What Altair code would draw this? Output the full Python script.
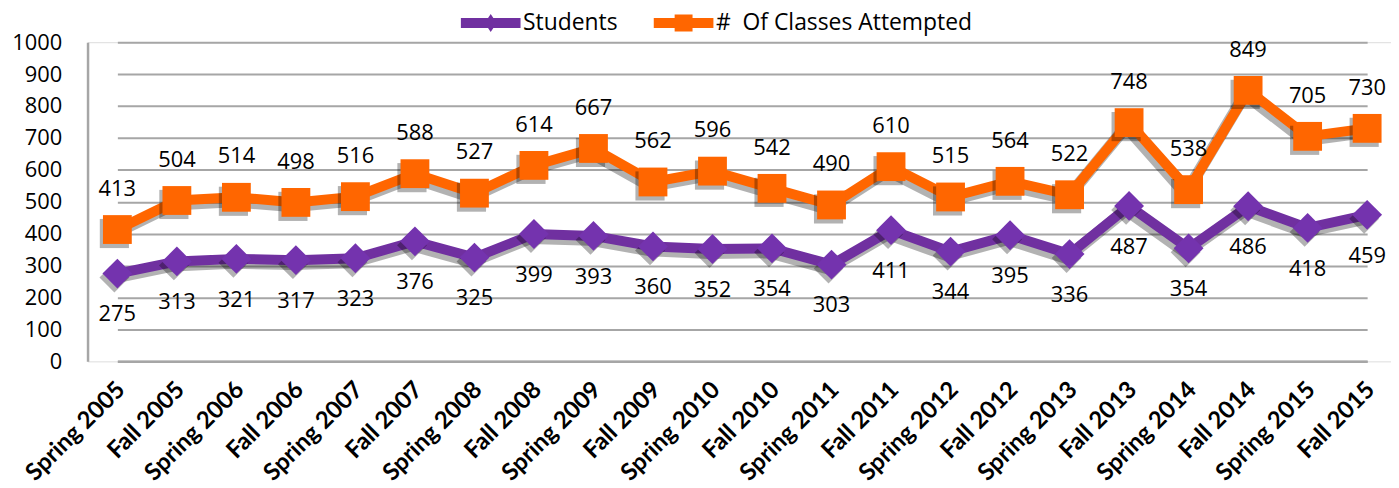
import altair as alt
import pandas as pd

terms = ["Spring 2005", "Fall 2005", "Spring 2006", "Fall 2006", "Spring 2007", "Fall 2007",
         "Spring 2008", "Fall 2008", "Spring 2009", "Fall 2009", "Spring 2010", "Fall 2010",
         "Spring 2011", "Fall 2011", "Spring 2012", "Fall 2012", "Spring 2013", "Fall 2013",
         "Spring 2014", "Fall 2014", "Spring 2015", "Fall 2015"]
students = [275, 313, 321, 317, 323, 376, 325, 399, 393, 360, 352, 354,
            303, 411, 344, 395, 336, 487, 354, 486, 418, 459]
classes = [413, 504, 514, 498, 516, 588, 527, 614, 667, 562, 596, 542,
           490, 610, 515, 564, 522, 748, 538, 849, 705, 730]

S_NAME = "Students"
C_NAME = "#\u00a0 Of Classes Attempted"
series_names = [S_NAME, C_NAME]
series_colors = ["#7030A0", "#FF6600"]

rows = []
for t, s, c in zip(terms, students, classes):
    rows.append({"term": t, "value": s, "series": S_NAME})
    rows.append({"term": t, "value": c, "series": C_NAME})
df = pd.DataFrame(rows)

GRID = "#A6A6A6"

x_enc = alt.X("term:N", sort=terms,
              scale=alt.Scale(type="point", range=[30, 1287], padding=0),
              axis=alt.Axis(title=None, labelAngle=-45, labelFont="Lato", labelFontWeight="bold",
                            labelFontSize=24, labelColor="black", ticks=False, grid=False,
                            domainColor=GRID, domainWidth=2.5, labelPadding=16, labelOffset=-5))
y_enc = alt.Y("value:Q", scale=alt.Scale(domain=[0, 1000], nice=False),
              axis=alt.Axis(title=None, values=list(range(0, 1001, 100)), format="d", grid=True,
                            gridColor=GRID, gridWidth=2, ticks=False, domainColor=GRID,
                            domainWidth=2.5, labelFont="Open Sans", labelFontSize=22,
                            labelColor="black", labelPadding=26))
color_scale = alt.Scale(domain=series_names, range=series_colors)

base = alt.Chart(df).encode(x=x_enc, y=y_enc)
stud = base.transform_filter(alt.datum.series == S_NAME)
cls = base.transform_filter(alt.datum.series == C_NAME)

SH = dict(color="black", opacity=0.3, xOffset=-3, yOffset=4)
shadow_l1 = stud.mark_line(strokeWidth=12, **SH)
shadow_l2 = cls.mark_line(strokeWidth=12, **SH)
line_s = stud.mark_line(strokeWidth=10, color="#7030A0")
line_c = cls.mark_line(strokeWidth=10, color="#FF6600")

shadow_d = stud.mark_point(shape="diamond", filled=True, size=900, **SH)
shadow_s = cls.mark_point(shape="square", filled=True, size=860, **SH)
pts_d = stud.mark_point(shape="diamond", filled=True, size=900, color="#7433AE", opacity=1)
pts_s = cls.mark_point(shape="square", filled=True, size=840, color="#FF6600", opacity=1)

txt_s = stud.mark_text(dy=41, font="Open Sans", fontSize=22, color="black").encode(text="value:Q")
txt_c = cls.mark_text(dy=-41, font="Open Sans", fontSize=22, color="black").encode(text="value:Q")

# legend symbols: 20px layout box (symbolSize 400 -> 10px per unit), glyph 60px wide
path_d = "M-3,-0.5H3V0.5H-3Z M0,-0.9L0.6,0L0,0.9L-0.6,0Z"
path_s = "M-3,-0.5H3V0.5H-3Z M-0.9,-0.85H0.9V0.85H-0.9Z"

leg = dict(orient="none", legendX=394, legendY=-31, direction="horizontal",
           title=None, symbolSize=400, symbolOpacity=1, symbolStrokeWidth=0,
           labelFont="Open Sans", labelFontSize=23, labelColor="black", labelOffset=21,
           labelLimit=600, columnPadding=35, padding=0)

legend_layer = base.mark_point(filled=True, opacity=0).encode(
    color=alt.Color("series:N", scale=color_scale, legend=alt.Legend(**leg)),
    shape=alt.Shape("series:N", scale=alt.Scale(domain=series_names, range=[path_d, path_s]),
                    legend=alt.Legend(**leg)),
)

chart = alt.layer(shadow_l1, shadow_l2, line_s, line_c, shadow_d, shadow_s, pts_d, pts_s,
                  txt_s, txt_c, legend_layer).properties(
    width=1311, height=321,
    autosize=alt.AutoSizeParams(type="none"),
    padding={"left": 80, "top": 33, "right": 0, "bottom": 126},
).configure_view(stroke=None).configure(background="white")

chart.save("out.html", embed_options={"renderer": "svg", "actions": False})
